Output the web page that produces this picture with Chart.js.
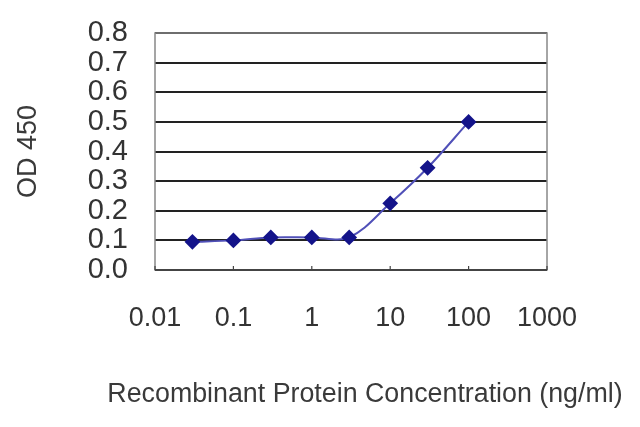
<!DOCTYPE html>
<html>
<head>
<meta charset="utf-8">
<script src="https://cdn.jsdelivr.net/npm/chart.js@4/dist/chart.umd.min.js"></script>
<style>
  html, body { margin: 0; padding: 0; background: #fff; }
  #wrap { width: 640px; height: 427px; }
</style>
</head>
<body>
<div id="wrap"><canvas id="elisa-chart" width="640" height="427"></canvas></div>
<script>
// concentrations (ng/ml) and OD 450 readings
const concentrations = [0.03, 0.1, 0.3, 1, 3, 10, 30, 100];
const odValues = [0.095, 0.10, 0.11, 0.11, 0.11, 0.225, 0.345, 0.50];
const xTickValues = [0.01, 0.1, 1, 10, 100, 1000];
const xTickLabels = ['0.01', '0.1', '1', '10', '100', '1000'];
const yTickValues = [0, 0.1, 0.2, 0.3, 0.4, 0.5, 0.6, 0.7, 0.8];
const xTitle = 'Recombinant Protein Concentration (ng/ml)';

const FONT = "'Liberation Sans', Arial, sans-serif";

// frame round the plot area, small inward ticks on the x axis, and the x title
// (drawn here so it is not squeezed to the plot width)
const framePlugin = {
    id: 'frame',
    afterDraw(chart) {
        const { ctx, chartArea: a, scales } = chart;
        ctx.save();
        ctx.strokeStyle = '#888';
        ctx.lineWidth = 1.5;
        ctx.strokeRect(a.left, a.top, a.right - a.left, a.bottom - a.top);
        ctx.strokeStyle = '#444';
        ctx.lineWidth = 2;
        ctx.beginPath();
        ctx.moveTo(a.left, a.bottom);
        ctx.lineTo(a.right, a.bottom);
        ctx.stroke();
        ctx.lineWidth = 1.2;
        xTickValues.forEach(v => {
            const px = scales.x.getPixelForValue(v);
            ctx.beginPath();
            ctx.moveTo(px, a.bottom);
            ctx.lineTo(px, a.bottom - 4);
            ctx.stroke();
        });
        ctx.fillStyle = '#3a3a3a';
        ctx.font = '26.8px ' + FONT;
        ctx.textAlign = 'center';
        ctx.textBaseline = 'middle';
        ctx.fillText(xTitle, a.left + (a.right - a.left) / 2 + 14, a.bottom + 125);
        ctx.restore();
    }
};

function initChart() {
    const ctx = document.getElementById('elisa-chart').getContext('2d');
    new Chart(ctx, {
        type: 'line',
        data: {
            datasets: [{
                label: 'OD 450',
                data: concentrations.map((c, i) => ({ x: c, y: odValues[i] })),
                borderColor: '#5050b8',
                borderWidth: 2,
                tension: 0.35,
                pointStyle: 'rectRot',
                pointRadius: 6.5,
                pointBackgroundColor: '#14148a',
                pointBorderColor: '#14148a',
                fill: false
            }]
        },
        options: {
            responsive: false,
            animation: false,
            layout: { padding: { top: 33, right: 93, left: 0, bottom: 0 } },
            plugins: {
                legend: { display: false },
                tooltip: { enabled: false }
            },
            scales: {
                x: {
                    type: 'logarithmic',
                    min: 0.01,
                    max: 1000,
                    afterBuildTicks: scale => {
                        scale.ticks = xTickValues.map(v => ({ value: v }));
                    },
                    afterFit: scale => {
                        scale.height = 157;
                        scale.paddingLeft = 0;
                        scale.paddingRight = 0;
                    },
                    grid: { display: false },
                    border: { display: false },
                    ticks: {
                        autoSkip: false,
                        maxRotation: 0,
                        padding: 24,
                        color: '#333',
                        font: { family: FONT, size: 27 },
                        callback: (v) => {
                            const i = xTickValues.indexOf(v);
                            return i >= 0 ? xTickLabels[i] : '';
                        }
                    }
                },
                y: {
                    min: 0,
                    max: 0.8,
                    afterBuildTicks: scale => {
                        scale.ticks = yTickValues.map(v => ({ value: v }));
                    },
                    afterFit: scale => {
                        scale.width = 155;
                        scale.paddingTop = 0;
                        scale.paddingBottom = 0;
                    },
                    grid: {
                        drawTicks: false,
                        color: '#222',
                        lineWidth: 2
                    },
                    border: { display: false },
                    ticks: {
                        autoSkip: false,
                        padding: 27,
                        color: '#333',
                        font: { family: FONT, size: 29 },
                        callback: v => v.toFixed(1)
                    },
                    title: {
                        display: true,
                        text: 'OD 450',
                        color: '#3a3a3a',
                        font: { family: FONT, size: 27 },
                        padding: { top: 12, bottom: 0 }
                    }
                }
            }
        },
        plugins: [framePlugin]
    });
}

document.addEventListener('DOMContentLoaded', () => {
    initChart();
});
</script>
</body>
</html>
